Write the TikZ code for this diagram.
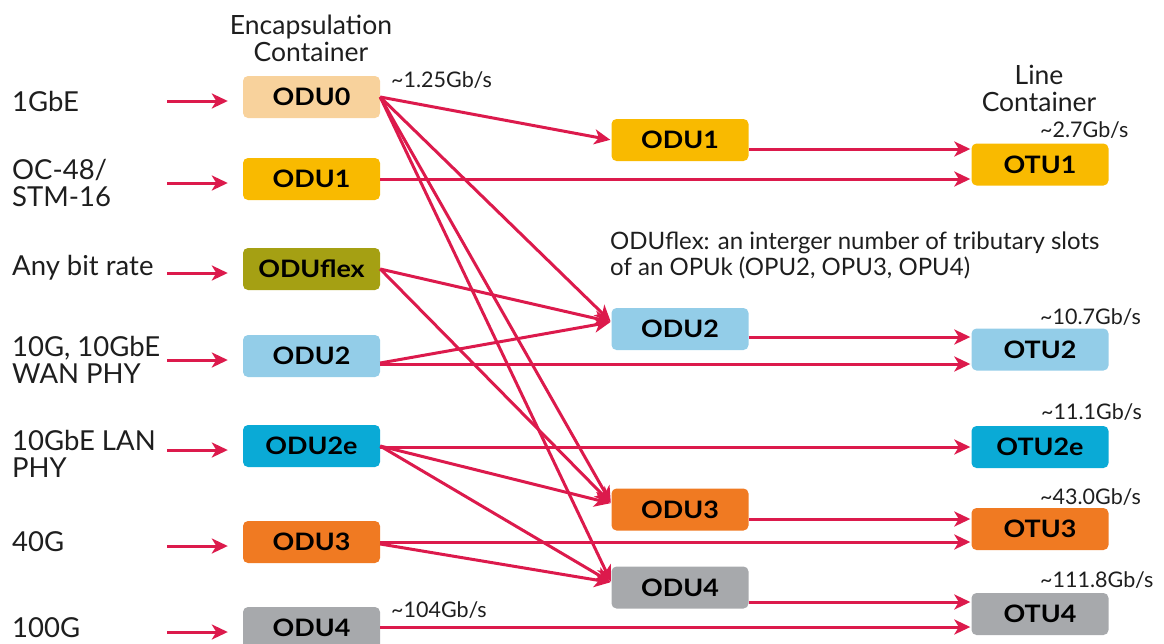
\documentclass[tikz,border=0pt]{standalone}
\usepackage{fontspec}
\setmainfont{Lato}
\newfontfamily\boxfont{Lato}[FakeStretch=1.12]
\usetikzlibrary{arrows.meta}
\definecolor{linkred}{HTML}{DC1A4C}
\definecolor{cOdu0}{HTML}{F8D29C}
\definecolor{cOdu1}{HTML}{F9BA00}
\definecolor{cFlex}{HTML}{A5A013}
\definecolor{cOdu2}{HTML}{93CDE8}
\definecolor{cOdu2e}{HTML}{0AAAD6}
\definecolor{cOdu3}{HTML}{F07A22}
\definecolor{cOdu4}{HTML}{A7A9AC}
\definecolor{txt}{HTML}{1E1E1E}
\begin{document}
\begin{tikzpicture}[x=1pt,y=-1pt,
  box/.style={rounded corners=5pt, minimum width=137pt, minimum height=42pt,
    inner sep=0pt, text=black, font=\boxfont\fontsize{24}{24}\selectfont\bfseries},
  src/.style={anchor=west, align=left, inner sep=0pt, text=txt,
    font=\fontsize{27.5}{27}\selectfont},
  head/.style={align=center, inner sep=0pt, text=txt,
    font=\fontsize{26.5}{27}\selectfont},
  rate/.style={anchor=west, inner sep=0pt, text=txt,
    font=\fontsize{21.5}{21.5}\selectfont},
  link/.style={draw=linkred, line width=3pt, shorten >=1pt,
    -{Stealth[length=16pt,width=15pt,inset=4.5pt]}},
]
\useasboundingbox (0,0) rectangle (1164,643);

% encapsulation containers
\node[box, fill=cOdu0]  (e0) at (311.5,97)  {ODU0};
\node[box, fill=cOdu1]  (e1) at (311.5,179) {ODU1};
\node[box, fill=cFlex]  (ef) at (311.5,269) {ODUflex};
\node[box, fill=cOdu2]  (e2) at (311.5,356) {ODU2};
\node[box, fill=cOdu2e] (ex) at (311.5,446) {ODU2e};
\node[box, fill=cOdu3]  (e3) at (311.5,542) {ODU3};
\node[box, fill=cOdu4]  (e4) at (311.5,628) {ODU4};

% multiplexing stage
\node[box, fill=cOdu1] (m1) at (680,140)   {ODU1};
\node[box, fill=cOdu2] (m2) at (680,329)   {ODU2};
\node[box, fill=cOdu3] (m3) at (680,509.5) {ODU3};
\node[box, fill=cOdu4] (m4) at (680,587.5) {ODU4};

% line containers
\node[box, fill=cOdu1]  (t1) at (1040,164.5) {OTU1};
\node[box, fill=cOdu2]  (t2) at (1040,349.5) {OTU2};
\node[box, fill=cOdu2e] (tx) at (1040,447)   {OTU2e};
\node[box, fill=cOdu3]  (t3) at (1040,529)   {OTU3};
\node[box, fill=cOdu4]  (t4) at (1040,614)   {OTU4};

% client signals
\node[src] (s0) at (12,101) {1GbE};
\node[src] (s1) at (12,183) {OC-48/\\STM-16};
\node[src] (sf) at (12,268) {Any bit rate};
\node[src] (s2) at (12,360) {10G, 10GbE\\WAN PHY};
\node[src] (sx) at (12,454) {10GbE LAN\\PHY};
\node[src] (s3) at (12,542) {40G};
\node[src] (s4) at (12,628) {100G};

% column headings and note
\node[head] (h1) at (311,38) {Encapsulation\\Container};
\node[head] (h2) at (1039,88) {Line\\Container};
\node[anchor=west, align=left, inner sep=0pt, text=txt,
  font=\fontsize{24}{26}\selectfont] (note) at (610,255)
  {ODUflex: an interger number of tributary slots\\of an OPUk (OPU2, OPU3, OPU4)};

% bit rates
\node[rate] (r0)  at (391,80)   {\textasciitilde1.25Gb/s};
\node[rate] (r4)  at (391,610)  {\textasciitilde104Gb/s};
\node[rate] (rt1) at (1040,130) {\textasciitilde2.7Gb/s};
\node[rate] (rt2) at (1040,317) {\textasciitilde10.7Gb/s};
\node[rate] (rtx) at (1041,412) {\textasciitilde11.1Gb/s};
\node[rate] (rt3) at (1040,497) {\textasciitilde43.0Gb/s};
\node[rate] (rt4) at (1040,580) {\textasciitilde111.8Gb/s};

% client inputs, entering a little below the box centre
\foreach \b in {e0,e1,ef,e2,ex,e3,e4}{
  \coordinate (in-\b) at ([yshift=-4pt]167,0 |- \b.west);
  \draw[link, shorten >=15pt] (in-\b) -- ([yshift=-4pt]\b.west);
}

% entry points on the multiplexing stage
\coordinate (m1in) at (m1.west);
\coordinate (m2in) at ([yshift=7pt]m2.west);
\coordinate (m3in) at ([yshift=6pt]m3.west);
\coordinate (m4in) at ([yshift=5pt]m4.west);

% ODU0
\draw[link] (e0.east) -- (m1in);
\draw[link] (e0.east) -- (m2in);
\draw[link] (e0.east) -- (m3in);
\draw[link] (e0.east) -- (m4in);
% ODUflex
\draw[link] (ef.east) -- (m2in);
\draw[link] (ef.east) -- (m3in);
% ODU2
\draw[link] (e2.east |- 0,363) -- (m2in);
% ODU2e
\draw[link] (ex.east) -- (m3in);
\draw[link] (ex.east) -- (m4in);
% ODU3
\draw[link] (e3.east |- 0,544) -- (m4in);

% straight runs to the line containers
\draw[link] (m1.east |- 0,149) -- (t1.west |- 0,149);
\draw[link] (e1.east |- 0,179) -- (t1.west |- 0,179);
\draw[link] (m2.east |- 0,337) -- (t2.west |- 0,337);
\draw[link] (e2.east |- 0,364) -- (t2.west |- 0,364);
\draw[link] (ex.east |- 0,447) -- (tx.west |- 0,447);
\draw[link] (m3.east |- 0,519) -- (t3.west |- 0,519);
\draw[link] (e3.east |- 0,542) -- (t3.west |- 0,542);
\draw[link] (m4.east |- 0,602) -- (t4.west |- 0,602);
\draw[link] (e4.east |- 0,627) -- (t4.west |- 0,627);
\end{tikzpicture}
\end{document}
